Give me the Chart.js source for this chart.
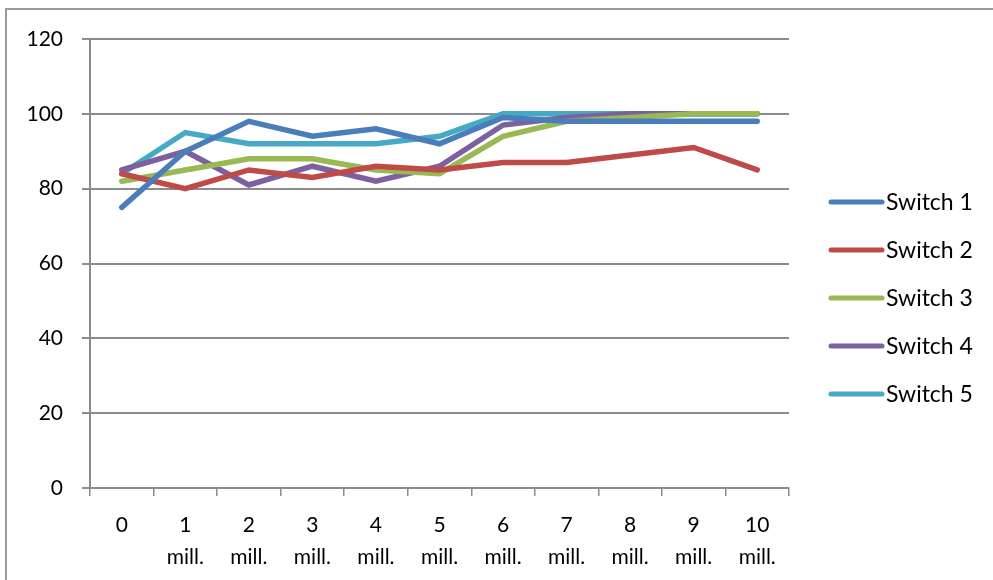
<!DOCTYPE html>
<html>
<head>
<meta charset="utf-8">
<script src="https://cdn.jsdelivr.net/npm/chart.js@4/dist/chart.umd.min.js"></script>
<style>
  html, body { margin: 0; padding: 0; background: #fff; }
  #wrap { width: 993px; height: 580px; position: relative; }
</style>
</head>
<body>
<div id="wrap"><canvas id="c" width="993" height="580"></canvas></div>
<script>
// Category labels (two lines each, "N" over "mill.")
const categories = [
  ['0'], ['1', 'mill.'], ['2', 'mill.'], ['3', 'mill.'], ['4', 'mill.'], ['5', 'mill.'],
  ['6', 'mill.'], ['7', 'mill.'], ['8', 'mill.'], ['9', 'mill.'], ['10', 'mill.']
];

const switch1 = [75, 90, 98, 94, 96, 92, 99, 98, 98, 98, 98];
const switch2 = [84, 80, 85, 83, 86, 85, 87, 87, 89, 91, 85];
const switch3 = [82, 85, 88, 88, 85, 84, 94, 98, 99, 100, 100];
const switch4 = [85, 90, 81, 86, 82, 86, 97, 99, 100, 100, 100];
const switch5 = [84, 95, 92, 92, 92, 94, 100, 100, 100, 100, 100];

const seriesNames = ['Switch 1', 'Switch 2', 'Switch 3', 'Switch 4', 'Switch 5'];
const seriesColors = ['#4a7ebb', '#be4b48', '#98b954', '#7d60a0', '#46aac5'];
const yTicks = [0, 20, 40, 60, 80, 100, 120];

const FONT = 'Lato, "Open Sans", sans-serif';
const GRID = '#8c8c8c';

// Outer frame around the whole chart
const framePlugin = {
  id: 'frame',
  beforeDraw(chart) {
    const ctx = chart.ctx;
    ctx.save();
    ctx.fillStyle = '#fff';
    ctx.fillRect(0, 0, chart.width, chart.height);
    ctx.strokeStyle = '#9a9a9a';
    ctx.lineWidth = 2;
    ctx.strokeRect(6, 9, chart.width + 10, chart.height + 10);
    ctx.restore();
  }
};

// Legend on the right: a thick line sample followed by the series name
const sideLegend = {
  id: 'sideLegend',
  afterDraw(chart) {
    const ctx = chart.ctx;
    ctx.save();
    ctx.font = '23px ' + FONT;
    ctx.textBaseline = 'middle';
    ctx.textAlign = 'left';
    chart.data.datasets.forEach((ds, i) => {
      const y = 202 + i * 48;
      ctx.strokeStyle = ds.borderColor;
      ctx.lineWidth = 5;
      ctx.lineCap = 'round';
      ctx.beginPath();
      ctx.moveTo(831, y);
      ctx.lineTo(882, y);
      ctx.stroke();
      ctx.fillStyle = '#000';
      ctx.fillText(ds.label, 886, y + 1);
    });
    ctx.restore();
  }
};

const seriesData = [switch1, switch2, switch3, switch4, switch5];

new Chart(document.getElementById('c'), {
  type: 'line',
  data: {
    labels: categories,
    datasets: seriesData.map((d, i) => ({
      label: seriesNames[i],
      data: d,
      borderColor: seriesColors[i],
      backgroundColor: seriesColors[i],
      borderWidth: 5.5,
      pointRadius: 0,
      tension: 0,
      borderCapStyle: 'round',
      borderJoinStyle: 'miter'
    }))
  },
  options: {
    responsive: false,
    animation: false,
    layout: { padding: { left: 0, right: 204, top: 39, bottom: 0 } },
    plugins: {
      legend: { display: false },
      tooltip: { enabled: false }
    },
    scales: {
      x: {
        offset: true,
        grid: {
          offset: true,
          drawOnChartArea: false,
          drawTicks: true,
          tickLength: 8,
          color: GRID,
          lineWidth: 1.5
        },
        border: { color: GRID, width: 2 },
        ticks: {
          color: '#000',
          font: { family: FONT, size: 21, lineHeight: 1.52 },
          maxRotation: 0,
          autoSkip: false,
          padding: 13
        },
        afterFit(scale) { scale.height = 92; }
      },
      y: {
        min: 0,
        max: 120,
        afterBuildTicks(scale) { scale.ticks = yTicks.map(v => ({ value: v })); },
        grid: {
          color: GRID,
          lineWidth: 2,
          drawTicks: true,
          tickLength: 8
        },
        border: { color: GRID, width: 2 },
        ticks: {
          color: '#000',
          font: { family: FONT, size: 21 },
          padding: 19
        },
        afterFit(scale) { scale.width = 90; }
      }
    }
  },
  plugins: [framePlugin, sideLegend]
});
</script>
</body>
</html>
